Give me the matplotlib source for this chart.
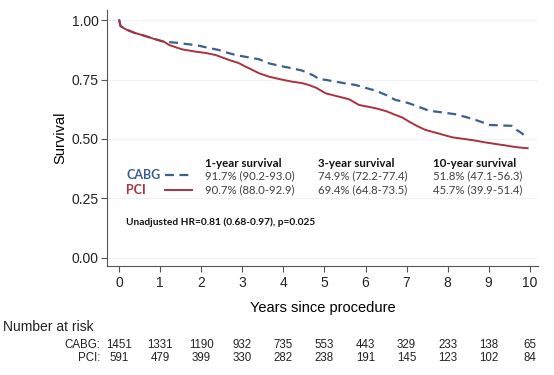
import matplotlib.pyplot as plt

# Kaplan-Meier curves
cabg_t = [0, 0.03, 0.15, 0.36, 0.6, 0.81, 1.09, 1.38, 1.6, 1.87,
          2.1, 2.43, 2.65, 2.84, 3.16, 3.41, 3.65, 3.9, 4.21, 4.45,
          4.62, 4.75, 4.87, 5.05, 5.27, 5.5, 5.76, 6.0, 6.25, 6.5,
          6.73, 6.9, 7.06, 7.3, 7.54, 7.85, 8.19, 8.45, 8.68, 8.85,
          9.0, 9.3, 9.57, 9.68, 9.8, 9.9, 9.95]
cabg_s = [1.0, 0.975, 0.962, 0.947, 0.935, 0.923, 0.909, 0.905, 0.900, 0.895,
          0.886, 0.874, 0.862, 0.853, 0.843, 0.835, 0.818, 0.808, 0.797, 0.788,
          0.776, 0.765, 0.752, 0.748, 0.741, 0.734, 0.727, 0.715, 0.703, 0.685,
          0.664, 0.658, 0.650, 0.635, 0.619, 0.612, 0.604, 0.592, 0.580, 0.570,
          0.559, 0.557, 0.555, 0.538, 0.525, 0.510, 0.505]
pci_t = [0, 0.03, 0.15, 0.36, 0.6, 0.81, 1.09, 1.22, 1.53, 1.87,
         2.1, 2.35, 2.68, 2.9, 3.08, 3.25, 3.41, 3.65, 3.9, 4.21,
         4.45, 4.62, 4.8, 5.03, 5.3, 5.6, 5.84, 6.05, 6.25, 6.5,
         6.73, 6.9, 7.06, 7.25, 7.46, 7.8, 8.11, 8.4, 8.68, 8.9,
         9.16, 9.4, 9.57, 9.75, 9.95]
pci_s = [1.0, 0.975, 0.962, 0.947, 0.935, 0.923, 0.909, 0.895, 0.877, 0.867,
         0.862, 0.853, 0.832, 0.82, 0.804, 0.79, 0.776, 0.762, 0.752, 0.741,
         0.735, 0.727, 0.715, 0.692, 0.68, 0.667, 0.643, 0.636, 0.629, 0.617,
         0.601, 0.59, 0.573, 0.555, 0.538, 0.522, 0.507, 0.50, 0.493, 0.486,
         0.479, 0.473, 0.468, 0.464, 0.461]

years = list(range(11))
risk_cabg = [1451, 1331, 1190, 932, 735, 553, 443, 329, 233, 138, 65]
risk_pci = [591, 479, 399, 330, 282, 238, 191, 145, 123, 102, 84]

headers = ['1-year survival', '3-year survival', '10-year survival']
cabg_txt = ['91.7% (90.2-93.0)', '74.9% (72.2-77.4)', '51.8% (47.1-56.3)']
pci_txt = ['90.7% (88.0-92.9)', '69.4% (64.8-73.5)', '45.7% (39.9-51.4)']

blue = '#3b5f8e'
red = '#a8323e'

plt.rcParams['font.family'] = ['Liberation Sans', 'DejaVu Sans']
fig = plt.figure(figsize=(5.54, 3.75), dpi=100)
ax = fig.add_axes([0.193, 0.291, 0.778, 0.682])

ax.plot(cabg_t, cabg_s, color=blue, lw=1.6, ls=(0, (4, 2.5)))
ax.plot(pci_t, pci_s, color=red, lw=1.4)

ax.set_xlim(-0.3, 10.2)
ax.set_ylim(-0.034, 1.042)
ax.set_xticks(years)
ax.set_yticks([0, 0.25, 0.5, 0.75, 1.0])
ax.set_yticklabels(['0.00', '0.25', '0.50', '0.75', '1.00'])
ax.tick_params(labelsize=10, length=4, color='#555555', colors='#222222')
ax.tick_params(axis='y', pad=2)
for sp in ['top', 'right']:
    ax.spines[sp].set_visible(False)
for sp in ['left', 'bottom']:
    ax.spines[sp].set_color('#555555')
ax.grid(axis='y', color='#f2f2f2', lw=0.8)
ax.set_axisbelow(True)
ax.set_xlabel('Years since procedure', fontsize=10.5, labelpad=8)
ax.set_ylabel('Survival', fontsize=10.5, labelpad=3)

# in-plot legend / survival table
cal = ['Lato', 'DejaVu Sans']
ax.text(0.17, 0.349, 'CABG', color=blue, fontsize=9, family=cal, fontweight='bold', va='center')
ax.text(0.17, 0.286, 'PCI', color=red, fontsize=9, family=cal, fontweight='bold', va='center')
ax.plot([1.12, 1.75], [0.349, 0.349], color=blue, lw=1.6, ls=(0, (4, 2.5)))
ax.plot([1.12, 1.77], [0.286, 0.286], color=red, lw=1.4)
for x0, h, c, p in zip([2.09, 4.84, 7.64], headers, cabg_txt, pci_txt):
    ax.text(x0, 0.398, h, fontsize=8.3, family=cal, fontweight='bold', color='#111111', va='center')
    ax.text(x0, 0.346, c, fontsize=8.2, family=cal, color='#404040', va='center')
    ax.text(x0, 0.286, p, fontsize=8.2, family=cal, color='#404040', va='center')
ax.text(0.17, 0.151, 'Unadjusted HR=0.81 (0.68-0.97), p=0.025', fontsize=7.3, family=cal,
        fontweight='bold', color='#111111', va='center')

# number at risk table
fig.text(0.005, 1 - 327 / 375, 'Number at risk', fontsize=10, va='center', color='#222222')
fig.text(100 / 554, 1 - 345 / 375, 'CABG:', fontsize=8.3, ha='right', va='center', color='#222222')
fig.text(100 / 554, 1 - 358 / 375, 'PCI:', fontsize=8.3, ha='right', va='center', color='#222222')
for yr, a, b in zip(years, risk_cabg, risk_pci):
    xf = fig.transFigure.inverted().transform(ax.transData.transform((yr, 0)))[0]
    fig.text(xf, 1 - 345 / 375, str(a), fontsize=8.3, ha='center', va='center', color='#222222')
    fig.text(xf, 1 - 358 / 375, str(b), fontsize=8.3, ha='center', va='center', color='#222222')

fig.savefig('out.png', dpi=100, facecolor='white')
